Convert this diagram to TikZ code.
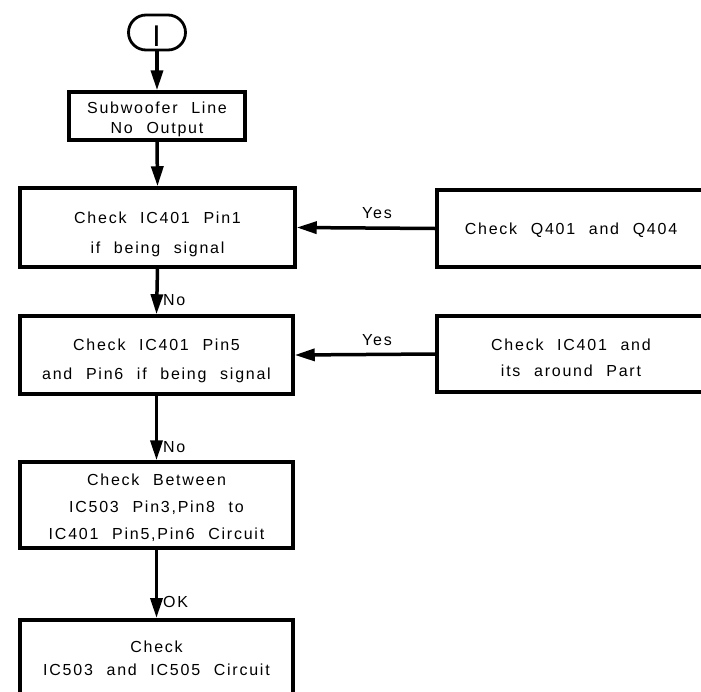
\documentclass[tikz,border=0pt]{standalone}
\usepackage{fontspec}
\setmainfont[LetterSpace=11,WordSpace=2.2]{Liberation Sans}
\usetikzlibrary{arrows.meta,shapes.misc}
\begin{document}
\begin{tikzpicture}[x=1pt,y=-1pt,
  box/.style={draw,line width=3.5pt,rectangle,inner sep=0pt},
  txt/.style={inner sep=0pt,align=center,font=\fontsize{16}{#1}\selectfont},
  txt/.default=26,
  conn/.style={line width=3.5pt,-{Triangle[length=20pt,width=12pt]}},
  lbl/.style={font=\fontsize{16}{16}\selectfont,inner sep=0pt}]
\useasboundingbox (0,0) rectangle (701,691);
\clip (0,0) rectangle (701,691);
% boxes
\node[draw,line width=2.8pt,rounded rectangle,minimum width=57pt,minimum height=35pt,inner sep=0pt] (t) at (157,32.5) {};
\node[box,minimum width=176pt,minimum height=48pt] (b1) at (157,116) {};
\node[box,minimum width=275pt,minimum height=79pt] (b2) at (157.5,227.5) {};
\node[box,minimum width=273pt,minimum height=78pt] (b3) at (156.5,355) {};
\node[box,minimum width=273pt,minimum height=86pt] (b4) at (156.5,505) {};
\node[box,minimum width=273pt,minimum height=100pt,anchor=north] (b5) at (156.5,618) {};
\node[box,minimum width=268pt,minimum height=77pt] (r1) at (571,228.5) {};
\node[box,minimum width=268pt,minimum height=76pt] (r2) at (571,354) {};
% texts
\node[inner sep=0pt,font=\fontsize{30}{30}\selectfont] (tt) at (156.5,36) {I};
\node[txt=20] (b1t) at (157,119) {Subwoofer Line\\No Output};
\node[txt=30] (b2t) at (157.5,234) {Check IC401 Pin1\\if being signal};
\node[txt=29] (b3t) at (156.5,361) {Check IC401 Pin5\\and Pin6 if being signal};
\node[txt=27] (b4t) at (156.5,508) {Check Between\\IC503 Pin3,Pin8 to\\IC401 Pin5,Pin6 Circuit};
\node[txt=23] (b5t) at (156.5,658) {Check\\IC503 and IC505 Circuit};
\node[txt] (r1t) at (571,230.5) {Check Q401 and Q404};
\node[txt] (r2t) at (571,358) {Check IC401 and\\its around Part};
% connectors
\draw[conn] (t.south) -- (b1.north);
\draw[conn] (b1.south) -- (b2.north);
\draw[conn] (b2.south) -- (b3.north);
\draw[conn] (b3.south) -- (b4.north);
\draw[conn] (b4.south) -- (b5.north);
\draw[conn] (r1.west) -- (b2.east);
\draw[conn] (r2.west) -- (b3.east);
\node[lbl,anchor=west] (n1) at (163,300) {No};
\node[lbl,anchor=west] (n2) at (163,447) {No};
\node[lbl,anchor=west] (ok) at (163,602) {OK};
\node[lbl] (y1) at (377,213) {Yes};
\node[lbl] (y2) at (377,340) {Yes};
\end{tikzpicture}
\end{document}
